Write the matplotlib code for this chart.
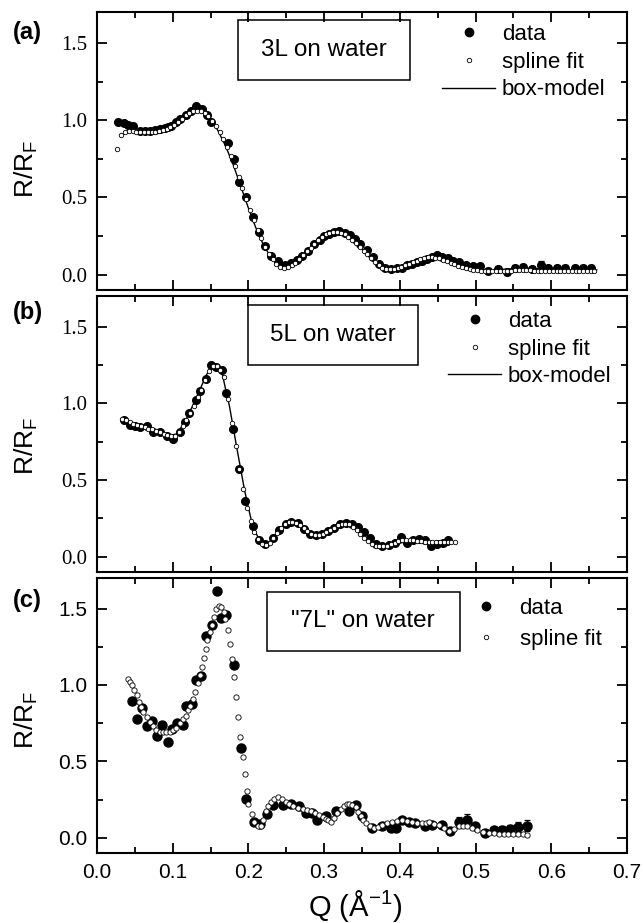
import numpy as np
import matplotlib
matplotlib.use("Agg")
import matplotlib.pyplot as plt
from matplotlib.lines import Line2D
from matplotlib.patches import Rectangle
from matplotlib.ticker import MultipleLocator

plt.rcParams['font.family'] = ['Liberation Sans', 'DejaVu Sans']
plt.rcParams['mathtext.default'] = 'regular'

# ---------------- panel (a): 3L on water ----------------
a_q = [0.028, 0.035, 0.041, 0.048, 0.057, 0.064, 0.070, 0.077, 0.083, 0.090,
       0.094, 0.098, 0.104, 0.110, 0.117, 0.124, 0.131, 0.139, 0.145, 0.151,
       0.173, 0.181, 0.188, 0.197, 0.206, 0.214, 0.222, 0.230, 0.239, 0.248,
       0.256, 0.264, 0.271, 0.279, 0.287, 0.294, 0.300, 0.306, 0.313, 0.320,
       0.327, 0.334, 0.341, 0.348, 0.356, 0.364, 0.372, 0.380, 0.388, 0.396,
       0.403, 0.410, 0.416, 0.423, 0.429, 0.436, 0.443, 0.449, 0.456, 0.463,
       0.470, 0.478, 0.487, 0.496, 0.506, 0.517, 0.530, 0.541, 0.552, 0.563,
       0.574, 0.587, 0.596, 0.607, 0.618, 0.631, 0.642, 0.653]
a_data = [0.99, 0.98, 0.97, 0.96, 0.93, 0.93, 0.93, 0.935, 0.94, 0.95,
          0.955, 0.965, 0.985, 1.01, 1.035, 1.06, 1.09, 1.075, 1.035, 0.99,
          0.85, 0.75, 0.60, 0.50, 0.37, 0.275, 0.185, 0.12, 0.085, 0.065,
          0.075, 0.095, 0.12, 0.155, 0.195, 0.225, 0.25, 0.265, 0.275, 0.28,
          0.27, 0.255, 0.23, 0.20, 0.16, 0.115, 0.07, 0.045, 0.035, 0.04,
          0.045, 0.06, 0.07, 0.08, 0.09, 0.10, 0.115, 0.125, 0.115, 0.105,
          0.09, 0.08, 0.065, 0.055, 0.055, 0.025, 0.035, 0.015, 0.045, 0.05,
          0.035, 0.065, 0.045, 0.045, 0.04, 0.04, 0.04, 0.04]
a_err = [0] * 64 + [0.015, 0.015, 0.02, 0.02, 0.02, 0.02, 0.02,
                    0.02, 0.02, 0.02, 0.02, 0.02, 0.02, 0.02]

a_spline_start, a_spline_step = 0.027, 0.005
a_spline = [0.81, 0.905, 0.925, 0.93, 0.93, 0.925, 0.92, 0.92, 0.92, 0.92,
            0.925, 0.93, 0.935, 0.945, 0.955, 0.97, 0.99, 1.01, 1.03, 1.045,
            1.058, 1.062, 1.058, 1.045, 1.025, 0.995, 0.96, 0.92, 0.875, 0.825,
            0.765, 0.70, 0.63, 0.56, 0.49, 0.42, 0.355, 0.29, 0.235, 0.18,
            0.135, 0.10, 0.07, 0.052, 0.045, 0.048, 0.06, 0.078, 0.10, 0.125,
            0.15, 0.175, 0.20, 0.225, 0.245, 0.26, 0.27, 0.275, 0.275, 0.27,
            0.26, 0.245, 0.225, 0.205, 0.18, 0.155, 0.13, 0.105, 0.08, 0.06,
            0.045, 0.038, 0.035, 0.037, 0.042, 0.05, 0.06, 0.07, 0.08, 0.09,
            0.10, 0.107, 0.112, 0.113, 0.11, 0.105, 0.097, 0.088, 0.078, 0.068,
            0.058, 0.05, 0.042, 0.036, 0.031, 0.027, 0.024, 0.022, 0.021, 0.021,
            0.022, 0.023, 0.024, 0.025, 0.026, 0.027, 0.028, 0.028, 0.028, 0.027,
            0.026, 0.025, 0.024, 0.023, 0.022, 0.021, 0.02, 0.02, 0.02, 0.02,
            0.02, 0.02, 0.02, 0.02, 0.02, 0.021, 0.022]

a_box_start, a_box_step = 0.03, 0.01
a_box = [0.97, 0.95, 0.93, 0.92, 0.92, 0.925, 0.94, 0.965, 1.00, 1.04,
         1.07, 1.06, 1.01, 0.93, 0.83, 0.71, 0.57, 0.43, 0.30, 0.19,
         0.11, 0.06, 0.045, 0.065, 0.11, 0.165, 0.215, 0.255, 0.275, 0.275,
         0.255, 0.215, 0.165, 0.11, 0.065, 0.04, 0.035, 0.045, 0.065, 0.09,
         0.11, 0.12, 0.115, 0.10, 0.08, 0.06, 0.045, 0.035, 0.03, 0.03,
         0.032, 0.035, 0.038, 0.04, 0.04, 0.038, 0.035, 0.032, 0.03, 0.03,
         0.03, 0.03, 0.03, 0.03]

# ---------------- panel (b): 5L on water ----------------
b_q = [0.035, 0.043, 0.050, 0.057, 0.066, 0.074, 0.083, 0.092, 0.101, 0.109,
       0.116, 0.122, 0.131, 0.136, 0.144, 0.151, 0.157, 0.165, 0.171, 0.179,
       0.188, 0.196, 0.206, 0.214, 0.222, 0.232, 0.241, 0.249, 0.256, 0.265,
       0.273, 0.281, 0.289, 0.297, 0.305, 0.313, 0.321, 0.329, 0.337, 0.345,
       0.353, 0.361, 0.369, 0.377, 0.385, 0.393, 0.401, 0.409, 0.417, 0.425,
       0.433, 0.441, 0.449, 0.457, 0.464]
b_data = [0.89, 0.86, 0.85, 0.845, 0.85, 0.815, 0.81, 0.79, 0.77, 0.815,
          0.875, 0.94, 1.02, 1.08, 1.16, 1.25, 1.24, 1.215, 1.07, 0.835,
          0.57, 0.36, 0.20, 0.11, 0.08, 0.12, 0.175, 0.21, 0.225, 0.22,
          0.18, 0.15, 0.14, 0.145, 0.165, 0.19, 0.21, 0.22, 0.215, 0.195,
          0.16, 0.12, 0.085, 0.07, 0.075, 0.09, 0.13, 0.09, 0.11, 0.115,
          0.11, 0.07, 0.085, 0.09, 0.11]

b_spline_start, b_spline_step = 0.033, 0.005
b_spline = [0.90, 0.89, 0.875, 0.865, 0.86, 0.85, 0.845, 0.835, 0.83, 0.82,
            0.81, 0.80, 0.795, 0.785, 0.785, 0.81, 0.85, 0.89, 0.94, 0.98,
            1.04, 1.09, 1.15, 1.21, 1.245, 1.245, 1.22, 1.17, 1.03, 0.87,
            0.72, 0.57, 0.44, 0.32, 0.23, 0.16, 0.115, 0.085, 0.078, 0.09,
            0.12, 0.155, 0.185, 0.21, 0.225, 0.228, 0.22, 0.205, 0.185, 0.165,
            0.15, 0.14, 0.14, 0.145, 0.16, 0.175, 0.19, 0.205, 0.215, 0.215,
            0.21, 0.195, 0.175, 0.15, 0.125, 0.10, 0.085, 0.072, 0.068, 0.068,
            0.072, 0.08, 0.09, 0.10, 0.107, 0.11, 0.11, 0.108, 0.105, 0.10,
            0.097, 0.095, 0.093, 0.093, 0.093, 0.095, 0.097, 0.097, 0.095]

b_box_start, b_box_step = 0.035, 0.01
b_box = [0.89, 0.87, 0.855, 0.84, 0.825, 0.81, 0.79, 0.80, 0.87, 0.97,
         1.08, 1.19, 1.25, 1.20, 0.98, 0.70, 0.43, 0.21, 0.10, 0.08,
         0.135, 0.195, 0.225, 0.215, 0.175, 0.145, 0.14, 0.16, 0.195, 0.215,
         0.205, 0.165, 0.115, 0.075, 0.06, 0.065, 0.08, 0.095, 0.10, 0.095,
         0.085, 0.075, 0.07, 0.075]

# ---------------- panel (c): "7L" on water ----------------
c_q = [0.0456, 0.0522, 0.0588, 0.0654, 0.0733, 0.0794, 0.0864, 0.0939, 0.0996, 0.1057,
       0.1136, 0.1180, 0.1259, 0.1311, 0.1377, 0.1443, 0.1517, 0.1583, 0.1640, 0.1706,
       0.1816, 0.1904, 0.1970, 0.2070, 0.2154, 0.2241, 0.2329, 0.2450, 0.2561, 0.2671,
       0.2754, 0.2846, 0.2912, 0.3022, 0.3154, 0.3329, 0.3417, 0.3504, 0.3636, 0.3768,
       0.3877, 0.3943, 0.4031, 0.4118, 0.4206, 0.4338, 0.4426, 0.4557, 0.4667, 0.4776,
       0.4886, 0.4996, 0.5127, 0.5237, 0.5346, 0.5456, 0.5566, 0.5675]
c_data = [0.894, 0.774, 0.85, 0.73, 0.763, 0.667, 0.737, 0.624, 0.711, 0.754,
          0.737, 0.863, 0.878, 1.035, 1.057, 1.32, 1.39, 1.618, 1.437, 1.459,
          1.133, 0.585, 0.254, 0.102, 0.091, 0.156, 0.215, 0.215, 0.222, 0.209,
          0.161, 0.161, 0.117, 0.139, 0.172, 0.172, 0.215, 0.139, 0.063, 0.074,
          0.063, 0.063, 0.117, 0.106, 0.096, 0.074, 0.085, 0.085, 0.041, 0.10,
          0.113, 0.074, 0.03, 0.052, 0.052, 0.056, 0.07, 0.078]
c_err = [0] * 49 + [0.035, 0.04, 0.02, 0.02, 0.02, 0.025, 0.025, 0.03, 0.035]

c_spline_q = [0.0404, 0.0434, 0.0465, 0.0491, 0.0522, 0.0553, 0.0580, 0.0610, 0.0654, 0.0697,
              0.0741, 0.0785, 0.0829, 0.0873, 0.0917, 0.0961, 0.1004, 0.1048, 0.1092, 0.1136,
              0.1171, 0.1202, 0.1232, 0.1268, 0.1298, 0.1333, 0.1364, 0.1390, 0.1412, 0.1434,
              0.1456, 0.1487, 0.1522, 0.1544, 0.1575, 0.1605, 0.1640, 0.1671, 0.1697, 0.1728,
              0.1750, 0.1785, 0.1816, 0.1838, 0.1868, 0.1895, 0.1925, 0.1956, 0.1982, 0.2000,
              0.2044, 0.2080, 0.2123, 0.2167, 0.2190, 0.2232, 0.2265, 0.2298, 0.2340, 0.2386,
              0.2440, 0.2496, 0.2540, 0.2583, 0.2650, 0.2715, 0.2770, 0.2825, 0.2880, 0.2934,
              0.2980, 0.3022, 0.3055, 0.3088, 0.3130, 0.3175, 0.3220, 0.3263, 0.3300, 0.3329,
              0.3370, 0.3417, 0.3450, 0.3482, 0.3515, 0.3548, 0.3600, 0.3658, 0.3710, 0.3768,
              0.3830, 0.3900, 0.3965, 0.4031, 0.4095, 0.4162, 0.4230, 0.4294, 0.4340, 0.4382,
              0.4450, 0.4513, 0.4580, 0.4645, 0.4710, 0.4776, 0.4830, 0.4886, 0.4950, 0.5018,
              0.5095, 0.5171, 0.5237, 0.5303, 0.5370, 0.5434, 0.5500, 0.5566, 0.5620, 0.5675]
c_spline = [1.037, 1.02, 1.0, 0.97, 0.933, 0.89, 0.855, 0.82, 0.79, 0.76,
            0.73, 0.705, 0.695, 0.69, 0.69, 0.695, 0.705, 0.72, 0.75, 0.78,
            0.80, 0.835, 0.865, 0.911, 0.955, 1.01, 1.065, 1.12, 1.175, 1.235,
            1.293, 1.345, 1.39, 1.445, 1.50, 1.52, 1.51, 1.475, 1.43, 1.36,
            1.27, 1.17, 1.05, 0.92, 0.79, 0.657, 0.53, 0.415, 0.309, 0.22,
            0.155, 0.106, 0.08, 0.08, 0.117, 0.172, 0.205, 0.237, 0.255, 0.265,
            0.255, 0.237, 0.222, 0.209, 0.197, 0.187, 0.18, 0.172, 0.162, 0.15,
            0.135, 0.122, 0.113, 0.106, 0.13, 0.161, 0.187, 0.209, 0.218, 0.222,
            0.216, 0.204, 0.17, 0.139, 0.115, 0.096, 0.075, 0.063, 0.072, 0.085,
            0.096, 0.106, 0.11, 0.113, 0.108, 0.10, 0.097, 0.096, 0.098, 0.10,
            0.093, 0.085, 0.065, 0.041, 0.058, 0.074, 0.074, 0.074, 0.063, 0.052,
            0.04, 0.03, 0.028, 0.026, 0.026, 0.026, 0.026, 0.026, 0.024, 0.02]

ytick_vals = [0.0, 0.5, 1.0, 1.5]
ytick_text = ['0.0', '0.5', '1.0', '1.5']
xtick_vals = [0.0, 0.1, 0.2, 0.3, 0.4, 0.5, 0.6, 0.7]
xtick_text = ['0.0', '0.1', '0.2', '0.3', '0.4', '0.5', '0.6', '0.7']
legend_names = ['data', 'spline fit', 'box-model']


def grid_q(start, step, values):
    return start + step * np.arange(len(values))


def style_axes(ax, serif_ticks, show_x):
    ax.set_xlim(0.0, 0.7)
    ax.set_ylim(-0.1, 1.7)
    for s in ax.spines.values():
        s.set_linewidth(1.5)
    ax.xaxis.set_minor_locator(MultipleLocator(0.05))
    ax.yaxis.set_minor_locator(MultipleLocator(0.25))
    ax.tick_params(which='both', direction='in', top=True, right=True, width=1.3)
    ax.tick_params(which='major', length=7)
    ax.tick_params(which='minor', length=4)
    ax.set_yticks(ytick_vals)
    if serif_ticks:
        ax.set_yticklabels(ytick_text, fontfamily='Liberation Serif', fontsize=15)
    else:
        ax.set_yticklabels(ytick_text, fontsize=15)
    ax.tick_params(axis='y', pad=7)
    ax.set_xticks(xtick_vals)
    if show_x:
        ax.set_xticklabels(xtick_text, fontsize=15)
        ax.tick_params(axis='x', pad=7)
    else:
        ax.set_xticklabels([])
    ax.set_ylabel('R/R$_F$', fontsize=19)


def draw_panel(ax, q, data, err, sq, spl, bq=None, box=None, ms_data=5.5, ms_spl=3.2):
    q = np.asarray(q)
    data = np.asarray(data)
    ax.plot(q, data, ls='none', marker='o', ms=ms_data, mfc='k', mec='k', zorder=2)
    if err is not None:
        err = np.asarray(err)
        m = err > 0
        ax.errorbar(q[m], data[m], yerr=err[m], fmt='none', ecolor='k',
                    elinewidth=0.9, capsize=2.5, capthick=0.9, zorder=2)
    if box is not None:
        ax.plot(bq, box, color='k', lw=1.0, zorder=3)
    ax.plot(sq, spl, ls='none', marker='o', ms=ms_spl, mfc='white', mec='k',
            mew=0.6, zorder=4)


def add_box(ax, x0, y0, x1, y1, label):
    ax.add_patch(Rectangle((x0, y0), x1 - x0, y1 - y0, transform=ax.transAxes,
                           fill=False, lw=1.1, ec='k', zorder=5))
    ax.text((x0 + x1) / 2, (y0 + y1) / 2, label, transform=ax.transAxes,
            ha='center', va='center', fontsize=17.5, zorder=6)


def add_legend(ax, x, y, with_box, spacing):
    handles = [Line2D([], [], ls='none', marker='o', ms=6, mfc='k', mec='k'),
               Line2D([], [], ls='none', marker='o', ms=3.2, mfc='white', mec='k', mew=0.6)]
    if with_box:
        handles.append(Line2D([], [], color='k', lw=1.0))
    ax.legend(handles, legend_names[:len(handles)], loc='upper left',
              bbox_to_anchor=(x, y), frameon=False, fontsize=16,
              handlelength=2.4, handletextpad=0.3, labelspacing=spacing,
              borderpad=0, borderaxespad=0)


W, H = 643, 923
fig = plt.figure(figsize=(W / 100, H / 100), dpi=100)
L, R = 97, 627


def make_axes(top, bottom):
    return fig.add_axes([L / W, 1 - bottom / H, (R - L) / W, (bottom - top) / H])


ax_a = make_axes(12, 290)
ax_b = make_axes(296, 572)
ax_c = make_axes(578, 853)

draw_panel(ax_a, a_q, a_data, a_err, grid_q(a_spline_start, a_spline_step, a_spline), a_spline,
           grid_q(a_box_start, a_box_step, a_box), a_box)
draw_panel(ax_b, b_q, b_data, None, grid_q(b_spline_start, b_spline_step, b_spline), b_spline,
           grid_q(b_box_start, b_box_step, b_box), b_box)
draw_panel(ax_c, c_q, c_data, c_err, c_spline_q, c_spline, ms_data=6.5, ms_spl=3.8)

style_axes(ax_a, True, False)
style_axes(ax_b, True, False)
style_axes(ax_c, False, True)

ax_a.yaxis.set_label_coords(-0.107, 0.435)
ax_b.yaxis.set_label_coords(-0.107, 0.457)
ax_c.yaxis.set_label_coords(-0.107, 0.484)

add_box(ax_a, 0.266, 0.755, 0.591, 0.971, '3L on water')
add_box(ax_b, 0.285, 0.750, 0.606, 0.967, '5L on water')
add_box(ax_c, 0.320, 0.735, 0.684, 0.949, '"7L" on water')

add_legend(ax_a, 0.651, 0.957, True, 0.3)
add_legend(ax_b, 0.662, 0.946, True, 0.3)
add_legend(ax_c, 0.684, 0.927, False, 0.45)

for lab, ypx in [('(a)', 33), ('(b)', 313), ('(c)', 600)]:
    fig.text(13 / W, 1 - ypx / H, lab, fontsize=17, fontweight='bold', ha='left', va='center')

fig.text(355 / W, 1 - 906 / H, 'Q (Å$^{-1}$)', fontsize=21, ha='center', va='center')

fig.savefig('out.png', dpi=100)
